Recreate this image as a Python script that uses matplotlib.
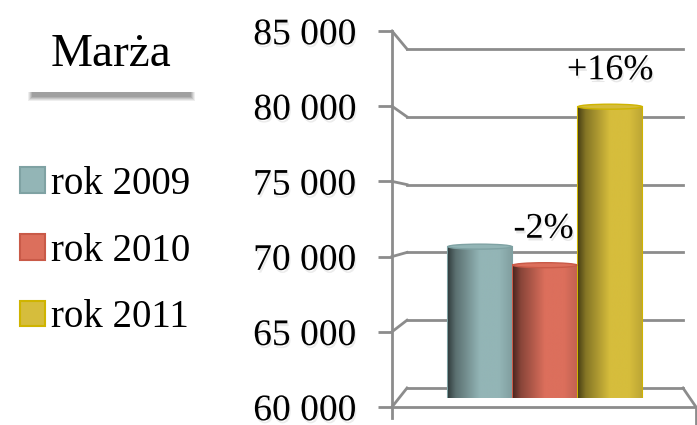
import numpy as np
import matplotlib
matplotlib.use('Agg')
import matplotlib.pyplot as plt
import matplotlib.patheffects as pe
from matplotlib.lines import Line2D
from matplotlib.patches import Rectangle, Ellipse
from matplotlib.ticker import FuncFormatter, MultipleLocator
from matplotlib.colors import to_rgb

# data
years = ['rok 2009', 'rok 2010', 'rok 2011']
margin = [70600, 69300, 80400]
colors = ['#93b5b6', '#dc6f5c', '#d6bd3c']
edges = ['#7fa2a3', '#c95a48', '#cfb400']
y_min, y_max, y_step = 60000, 85000, 5000
title = 'Marża'

W, H = 697, 425
GRID = '#8c8c8c'
FONT = 'Liberation Serif'
plt.rcParams['font.family'] = [FONT, 'DejaVu Serif']


def px_axes(fig, left, top, right, bottom):
    """axes from pixel box (origin top-left)"""
    return fig.add_axes([left / W, 1 - bottom / H, (right - left) / W, (bottom - top) / H])


def shadow(alpha=0.15, off=(1, -2)):
    return [pe.SimplePatchShadow(offset=off, shadow_rgbFace='#666666', alpha=alpha), pe.Normal()]


fig = plt.figure(figsize=(W / 100, H / 100), dpi=100)

# back wall (gridlines)
ax_back = px_axes(fig, 407, 49, 683, 388)
ax_back.set_ylim(y_min, y_max)
ax_back.set_xlim(0, 1)
for v in range(y_min, y_max + 1, y_step):
    ax_back.axhline(v, color=GRID, lw=2, clip_on=False)
ax_back.axis('off')

# front axis with tick labels (slightly below 60000 so the spine runs on)
ax_front = px_axes(fig, 392, 31, 696, 417.5)
ax_front.set_ylim(59300, y_max)
ax_front.set_xlim(0, 1)
ax_front.patch.set_alpha(0)
for s in ['top', 'right', 'bottom']:
    ax_front.spines[s].set_visible(False)
ax_front.spines['left'].set_color(GRID)
ax_front.spines['left'].set_linewidth(2)
ax_front.set_xticks([])
ax_front.yaxis.set_major_locator(MultipleLocator(y_step))
ax_front.yaxis.set_major_formatter(FuncFormatter(lambda v, p: '{:,.0f}'.format(v).replace(',', ' ')))
ax_front.tick_params(axis='y', length=10, width=2, color=GRID, pad=16, labelsize=27)
for lab in ax_front.get_yticklabels():
    lab.set_path_effects(shadow(0.12))
ax_front.plot([0, 1], [y_min, y_min], color=GRID, lw=2, clip_on=False)

# bars, mid depth
ax = px_axes(fig, 407, 41, 683, 398)
ax.set_ylim(y_min, y_max)
ax.set_xlim(-1.12, 3.12)
ax.axis('off')
x = np.arange(len(years))
bars = ax.bar(x, np.array(margin) - y_min, bottom=y_min, width=0.98, color=colors,
              edgecolor=edges, linewidth=1.5)
for b, c, ec, lbl in zip(bars, colors, edges, years):
    b.set_label(lbl)
    base = np.array(to_rgb(c))
    t = np.linspace(0, 1, 200)
    shade = np.interp(t, [0, 0.12, 0.5, 0.8, 1.0], [0.35, 0.62, 1.0, 1.0, 0.88])
    img = np.clip(base[None, None, :] * shade[None, :, None], 0, 1)
    x0, y0 = b.get_x(), b.get_y()
    im = ax.imshow(img, extent=(x0, x0 + b.get_width(), y0, y0 + b.get_height()),
                   aspect='auto', zorder=b.get_zorder() + 0.1)
    im.set_clip_path(b)
    ax.add_patch(Ellipse((x0 + b.get_width() / 2, y0 + b.get_height()), b.get_width(), 350,
                         facecolor=c, edgecolor=ec, lw=1, zorder=b.get_zorder() + 0.2))
ax.set_xlim(-1.12, 3.12)
ax.set_ylim(y_min, y_max)

# change labels
for i in range(1, len(margin)):
    ch = (margin[i] / margin[i - 1] - 1) * 100
    ax.annotate('{:+.0f}%'.format(ch), (x[i], margin[i]),
                xytext=(-1 if ch < 0 else 0, 14), textcoords='offset points',
                ha='center', va='bottom', fontsize=26, path_effects=shadow(0.15, (1, -2)),
                zorder=10)

# perspective connectors between front axis and back wall
inv = fig.transFigure.inverted()
for v in range(y_min, y_max + 1, y_step):
    p0 = inv.transform(ax_front.transData.transform((0, v)))
    p1 = inv.transform(ax_back.transData.transform((0, v)))
    fig.add_artist(Line2D([p0[0], p1[0]], [p0[1], p1[1]], color=GRID, lw=2))
p0 = inv.transform(ax_front.transData.transform((1, y_min)))
p1 = inv.transform(ax_back.transData.transform((1, y_min)))
fig.add_artist(Line2D([p0[0], p1[0]], [p0[1], p1[1]], color=GRID, lw=2))
fig.add_artist(Line2D([p0[0], p0[0]], [p0[1], 0], color=GRID, lw=2))

# title box with soft shadow
for k, a in enumerate([0.12, 0.15, 0.2, 0.25, 0.3]):
    fig.add_artist(Rectangle(((28 + k) / W, 1 - (101 - k) / H), (167 - 2 * k) / W, 80 / H,
                             transform=fig.transFigure, facecolor='#777777', edgecolor='none', alpha=a))
fig.add_artist(Rectangle((28 / W, 1 - 92 / H), 167 / W, 78 / H, transform=fig.transFigure,
                         facecolor='white', edgecolor='none'))
fig.text(111 / W, 1 - 55 / H, title, ha='center', va='center', fontsize=34)

# legend
leg = fig.legend(handles=list(bars), labels=years, loc='upper left',
                 bbox_to_anchor=(20 / W, 1 - 166 / H), frameon=False, fontsize=28,
                 handlelength=0.64, handleheight=0.64, handletextpad=0.15, labelspacing=0.76,
                 borderpad=0, borderaxespad=0)

fig.savefig('out.png', dpi=100)
